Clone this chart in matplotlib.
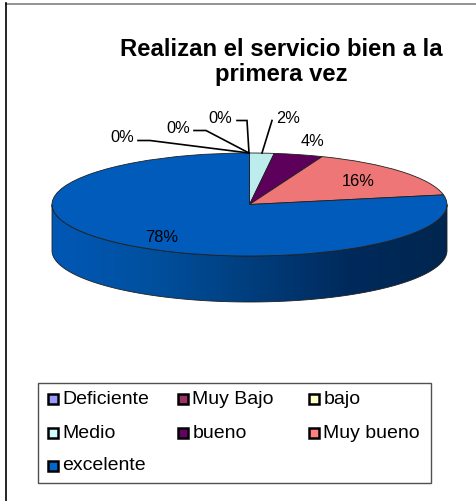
import numpy as np
import matplotlib
matplotlib.use("Agg")
import matplotlib.pyplot as plt
from matplotlib.colors import LinearSegmentedColormap
from matplotlib.patches import Rectangle, Polygon

plt.rcParams['font.family'] = ['Liberation Sans', 'DejaVu Sans']

TITLE = "Realizan el servicio bien a la\nprimera vez"
categories = ["Deficiente", "Muy Bajo", "bajo", "Medio", "bueno", "Muy bueno", "excelente"]
values = [0, 0, 0, 2, 4, 16, 78]
value_labels = [f"{v}%" for v in values]

# Slices are a little duller than their legend swatches (3D shading)
slice_colors = ["#8F8FEF", "#8F2F5F", "#EFEFBF", "#BCECEC", "#5C005C", "#EE7676", "#005BBB"]
legend_colors = ["#9999FF", "#993366", "#FFFFCC", "#CCFFFF", "#660066", "#FF8080", "#0066CC"]
side_colors = ["#0058B5", "#00509F", "#003E7D", "#002A5C", "#00264F"]

# Pie geometry, in figure pixels
W, H = 477, 501
CX, CY = 249.5, 204.5
RX, RY = 197.5, 51.5
DEPTH = 46

# Label centre and leader line for each slice (None = no leader)
label_pos = [(122, 138), (178, 128), (220, 118), (288, 118), (313, 142), (358, 182), (162, 237)]
leaders = [
    [(138, 140.5), (150, 140.5), (249, 153)],
    [(194, 130.5), (206, 130.5), (249, 153)],
    [(237, 120.5), (247, 120.5), (249, 153)],
    [(272, 120.5), (262, 153)],
    None,
    None,
    None,
]

fig = plt.figure(figsize=(W / 100, H / 100), dpi=100, facecolor="white")

# Overlay in pixel coordinates for frame, labels and legend
over = fig.add_axes([0, 0, 1, 1], zorder=3)
over.set_xlim(0, W)
over.set_ylim(H, 0)
over.axis("off")
over.patch.set_alpha(0)

# Only the top and left sides of the chart frame are drawn
over.plot([6, W], [3.5, 3.5], color="#808080", lw=1.2)
over.plot([6.5, 6.5], [3, H], color="black", lw=1.2)
over.text(281.5, 81, TITLE, ha="center", va="baseline", fontsize=17.2, fontweight="bold",
          linespacing=1.12, color="black")

# Pie axes: unit circle stretched into the ellipse, extended downwards for the rim
depth_u = DEPTH / RY
ax = fig.add_axes([(CX - RX) / W, (H - CY - RY - DEPTH) / H, 2 * RX / W, (2 * RY + DEPTH) / H], zorder=2)
ax.pie(values, colors=slice_colors, startangle=90, counterclock=False, radius=1,
       wedgeprops=dict(edgecolor="#202020", linewidth=0.6))
for p in ax.patches:
    p.set_clip_on(False)
    p.set_zorder(3)

# Rim of the pie: gradient image clipped to the front half of the ellipse
t = np.linspace(np.pi, 2 * np.pi, 200)
rim = np.column_stack([np.cos(t), np.sin(t) - depth_u])
outline = np.vstack([[[-1, 0]], rim, [[1, 0]], np.column_stack([np.cos(t[::-1]), np.sin(t[::-1])])])
rim_patch = Polygon(outline, closed=True, fc="none", ec="#202020", lw=0.6, clip_on=False, zorder=2)
ax.add_patch(rim_patch)
cmap = LinearSegmentedColormap.from_list("rim", side_colors)
img = ax.imshow(np.linspace(0, 1, 256).reshape(1, -1), cmap=cmap, aspect="auto",
                extent=(-1, 1, -1 - depth_u, 0), zorder=1)
img.set_clip_path(rim_patch)
ax.set_aspect("auto")
ax.set_xlim(-1, 1)
ax.set_ylim(-1 - depth_u, 1)

# Value labels and leader lines
for label, pos, leader in zip(value_labels, label_pos, leaders):
    over.text(pos[0], pos[1], label, ha="center", va="center", fontsize=11.8, color="black")
    if leader:
        xs, ys = zip(*leader)
        over.plot(xs, ys, color="black", lw=1.2, solid_joinstyle="miter")

# Legend box
over.add_patch(Rectangle((38.5, 383), 392.5, 99.5, fc="white", ec="#505050", lw=1))
col_x = [48, 178, 309]
row_y = [399, 433, 466]
for i, (name, color) in enumerate(zip(categories, legend_colors)):
    x = col_x[i % 3]
    y = row_y[i // 3]
    over.add_patch(Rectangle((x, y - 5), 10, 10, fc=color, ec="black", lw=1.8))
    over.text(x + 14.5, y, name, ha="left", va="center", fontsize=14, color="black")

fig.savefig("out.png", dpi=100)
